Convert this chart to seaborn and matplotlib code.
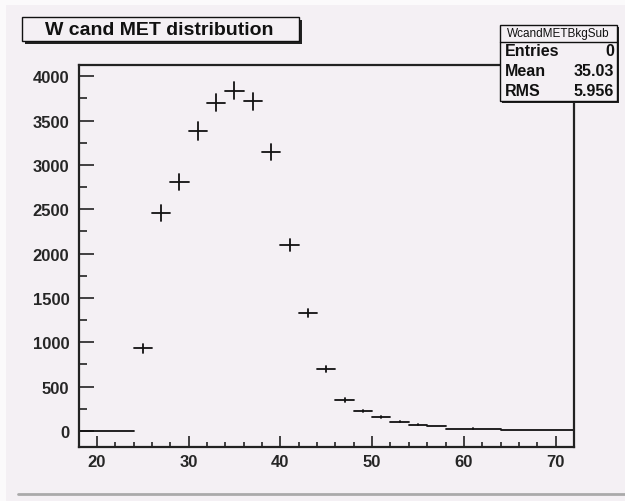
import matplotlib
matplotlib.use("Agg")
import matplotlib.pyplot as plt
from matplotlib.patches import Rectangle
from matplotlib.lines import Line2D
from matplotlib.ticker import MultipleLocator, FixedLocator
import pandas as pd
import seaborn as sns

# Histogram contents (variable-width bins)
bin_low = [18, 24, 26, 28, 30, 32, 34, 36, 38, 40, 42, 44, 46, 48, 50, 52, 54, 56, 58, 64]
bin_high = [24, 26, 28, 30, 32, 34, 36, 38, 40, 42, 44, 46, 48, 50, 52, 54, 56, 58, 64, 72]
counts = [0, 932, 2458, 2807, 3382, 3701, 3837, 3717, 3145, 2097, 1330, 699, 349, 229, 161, 105, 71, 56, 26, 11]
errors = [0, 52, 88, 92, 97, 97, 96, 94, 85, 68, 48, 34, 18, 12, 10, 8, 6, 4, 3, 2]

x_ticks = [20, 30, 40, 50, 60, 70]
y_ticks = [0, 500, 1000, 1500, 2000, 2500, 3000, 3500, 4000]

title_text = "W cand MET distribution"
stats_name = "WcandMETBkgSub"
stats_labels = ["Entries", "Mean", "RMS"]
stats_values = ["0", "35.03", "5.956"]

W, H = 625, 502
sns.set_style("ticks")
plt.rcParams["font.family"] = ["Liberation Sans Narrow", "Liberation Sans", "DejaVu Sans"]

bg = "#f4f0f4"
ink = "#111111"


def px(x, y):
    return x / W, 1 - y / H


fig = plt.figure(figsize=(W / 100, H / 100), dpi=100)
fig.patch.set_facecolor(bg)

# canvas bevel
fig.add_artist(Rectangle((0, 0), 6 / W, 1, transform=fig.transFigure, color="#fbfafb", lw=0))
fig.add_artist(Rectangle(px(0, 6), 1, 6 / H, transform=fig.transFigure, color="#fbfafb", lw=0))
fig.add_artist(Line2D([18 / W, 1], [1 - 494.5 / H] * 2, transform=fig.transFigure, color="#aaaaaa", lw=2))

ax = fig.add_axes([78.5 / W, 1 - 448 / H, (574 - 78.5) / W, (448 - 66) / H])
ax.set_facecolor(bg)

# build one segment per bin width and one per error bar
df = pd.DataFrame({"lo": bin_low, "hi": bin_high, "count": counts, "err": errors})
df["center"] = (df["lo"] + df["hi"]) / 2
rows = []
for i, r in df.iterrows():
    rows.append((f"h{i}", r["lo"], r["count"]))
    rows.append((f"h{i}", r["hi"], r["count"]))
    if r["err"] > 0:
        rows.append((f"v{i}", r["center"], r["count"] - r["err"]))
        rows.append((f"v{i}", r["center"], r["count"] + r["err"]))
seg = pd.DataFrame(rows, columns=["seg", "x", "y"])
sns.lineplot(data=seg, x="x", y="y", units="seg", estimator=None, sort=False,
             color=ink, linewidth=1.3, ax=ax, legend=False)

ax.set_xlim(18, 72)
ax.set_ylim(-180, 4126)
ax.set_xlabel("")
ax.set_ylabel("")
for s in ax.spines.values():
    s.set_visible(True)
    s.set_color("#222222")
    s.set_linewidth(1.6)

ax.xaxis.set_major_locator(FixedLocator(x_ticks))
ax.xaxis.set_minor_locator(MultipleLocator(2))
ax.yaxis.set_major_locator(FixedLocator(y_ticks))
ax.yaxis.set_minor_locator(MultipleLocator(250))
ax.tick_params(axis="both", which="both", direction="in", top=False, right=False,
               color="#222222", width=1.2, labelsize=12)
ax.tick_params(axis="x", which="major", length=8, pad=5)
ax.tick_params(axis="x", which="minor", length=3.8)
ax.tick_params(axis="y", which="major", length=10.8, pad=6.5)
ax.tick_params(axis="y", which="minor", length=5.5)
ax.set_xticklabels([str(v) for v in x_ticks], fontweight="bold")
ax.set_yticklabels([str(v) for v in y_ticks], fontweight="bold")


def box(x0, y0, x1, y1, shadow=3):
    fig.add_artist(Rectangle(px(x0 + shadow, y1 + shadow), (x1 - x0) / W, (y1 - y0) / H,
                             transform=fig.transFigure, facecolor="#222222", lw=0))
    fig.add_artist(Rectangle(px(x0, y1), (x1 - x0) / W, (y1 - y0) / H,
                             transform=fig.transFigure, facecolor=bg, edgecolor="#111111", lw=1))


# title pave
box(22, 18, 299, 42)
fig.text(*px(159, 30.5), title_text, ha="center", va="center", fontsize=14, fontweight="bold", color=ink)

# statistics pave
box(500, 26, 617, 102, shadow=2)
fig.add_artist(Line2D([500 / W, 617 / W], [1 - 43 / H] * 2, transform=fig.transFigure, color="#111111", lw=1))
fig.text(*px(558.5, 34.5), stats_name, ha="center", va="center", fontsize=8.5, color=ink)
for lab, val, yy in zip(stats_labels, stats_values, [51, 71, 91]):
    fig.text(*px(505, yy), lab, ha="left", va="center", fontsize=11.5, fontweight="bold", color=ink)
    fig.text(*px(614, yy), val, ha="right", va="center", fontsize=11.5, fontweight="bold", color=ink)

fig.savefig("out.png", dpi=100, facecolor=bg)
